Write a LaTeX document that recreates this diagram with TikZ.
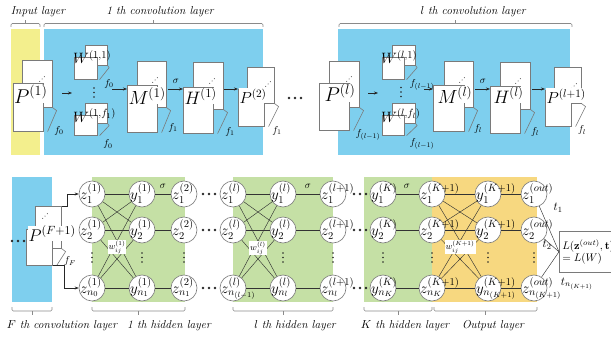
\RequirePackage{fix-cm}
\documentclass[tikz,border=0pt]{standalone}
\usepackage{amsmath}
\usetikzlibrary{calc,arrows.meta}
\definecolor{cblue}{HTML}{7ECFEE}
\definecolor{cyel}{HTML}{F3EF8D}
\definecolor{cgreen}{HTML}{C5E0A5}
\definecolor{corange}{HTML}{F7D880}
\definecolor{pgc}{HTML}{7A7A7A}
\definecolor{brc}{HTML}{8A8A8A}
\newcommand{\fs}[1]{\fontsize{#1}{#1}\selectfont}
\newcommand{\pg}[5]{\node[page,minimum width=#4,minimum height=#5] (#1) at (#2,#3) {};}
\newcommand{\bigbr}[2]{\draw[pbr] (#1.south east) -- ++(4,3) -- ($(#2.south east)+(4,0)$);}
\newcommand{\smbr}[2]{\draw[pbr] (#1.south east) -- ++(1.5,2) -- ($(#2.south east)+(2,0)$);}
\newcommand{\diagdots}[2]{\foreach \dx/\dy in {-2.3/2.3,0/0,2.3/-2.3} \fill[black!80] ($(#1,#2)+(\dx,\dy)$) circle (0.5);}
\newcommand{\vdotsat}[2]{\foreach \dy in {-4.5,0,4.5} \fill[black!85] ($(#1,#2)+(0,\dy)$) circle (0.8);}
\newcommand{\hdotsat}[2]{\foreach \dx in {-6,0,6} \fill[black!85] ($(#1,#2)+(\dx,0)$) circle (1.3);}
\newcommand{\tbrace}[2]{\draw[brace] (#1,27) -- (#1,23.5) -- (#2,23.5) -- (#2,27); \draw[brace] ({(#1+#2)/2},23.5) -- ++(0,-3);}
\newcommand{\bbrace}[2]{\draw[brace] (#1,307) -- (#1,311) -- (#2,311) -- (#2,307); \draw[brace] ({(#1+#2)/2},311) -- ++(0,3.5);}
\begin{document}
\begin{tikzpicture}[x=1pt,y=-1pt,
  page/.style={draw=pgc, fill=white, line width=0.6pt, inner sep=0pt, anchor=north west},
  plab/.style={inner sep=0.3pt, fill=white, anchor=base west},
  wl/.style={inner sep=0pt, anchor=base west, font=\fs{15}},
  flab/.style={inner sep=0pt, font=\fs{10}},
  pbr/.style={draw=pgc, line width=0.6pt},
  arr/.style={draw=black!85, line width=0.5pt, -{Stealth[length=4pt,width=3pt]}},
  neuron/.style={circle, draw=pgc, fill=white, line width=0.6pt, minimum size=26pt, inner sep=0pt},
  nlab/.style={inner sep=0pt, anchor=base west, font=\fs{15}},
  edge/.style={draw=black!80, line width=0.45pt},
  brace/.style={draw=brc, line width=0.6pt, rounded corners=1.2pt},
  laylab/.style={font=\fs{11.5}\itshape, inner sep=0pt},
  wlab/.style={fill=white, inner sep=1pt, font=\fs{9}},
  sig/.style={inner sep=0pt, font=\fs{10}},
  tlab/.style={inner sep=0pt, font=\fs{12}}]
\useasboundingbox (0,0) rectangle (611,337);
% backgrounds
\fill[cyel] (11,29) rectangle (40,155);
\fill[cblue] (44,29) rectangle (263,155);
\fill[cblue] (338,29) rectangle (570,155);
\fill[cblue] (12,177) rectangle (52,302);
\fill[cgreen] (92,177) rectangle (185,302);
\fill[cgreen] (233,177) rectangle (333,302);
\fill[cgreen] (364,177) rectangle (432,302);
\fill[corange] (432,177) rectangle (537,302);
% braces and layer labels
\tbrace{11}{40} \tbrace{44}{263} \tbrace{339}{572}
\node[laylab] (tl1) at (38,12) {Input layer};
\node[laylab] (tl2) at (160,12) {1 th convolution layer};
\node[laylab] (tl3) at (473,12) {$l$ th convolution layer};
\bbrace{12}{52} \bbrace{92}{185} \bbrace{233}{333} \bbrace{364}{432} \bbrace{434}{537}
\node[laylab] (bl1) at (62,326) {$F$ th convolution layer};
\node[laylab] (bl2) at (169,326) {1 th hidden layer};
\node[laylab] (bl3) at (295,326) {$l$ th hidden layer};
\node[laylab] (bl4) at (405,326) {$K$ th hidden layer};
\node[laylab] (bl5) at (493,326) {Output layer};
% ---------- top row pages ----------
\pg{p1b}{22}{60}{30}{47} \diagdots{42}{79} \pg{p1f}{13}{83}{30}{48}
\pg{w11b}{85}{45}{22}{20} \pg{w11f}{74}{57}{23}{22}
\pg{w1fb}{85}{103}{22}{20} \pg{w1ff}{74}{115}{23}{20}
\pg{m1b}{137}{61}{29}{46} \diagdots{155}{80} \pg{m1f}{127}{85}{30}{47}
\pg{h1b}{193}{62}{30}{47} \diagdots{212}{81} \pg{h1f}{183}{87}{30}{46}
\pg{p2b}{247}{67}{27}{36} \diagdots{268}{84} \pg{p2f}{238}{89}{26}{37}
\pg{plb}{329}{61}{30}{46} \diagdots{349}{79} \pg{plf}{319}{83}{30}{47}
\pg{wl1b}{392}{45}{23}{20} \pg{wl1f}{382}{57}{22}{22}
\pg{wlfb}{392}{103}{23}{20} \pg{wlff}{382}{115}{22}{20}
\pg{mlb}{444}{61}{29}{46} \diagdots{462}{80} \pg{mlf}{433}{85}{31}{46}
\pg{hlb}{500}{62}{30}{47} \diagdots{518}{81} \pg{hlf}{490}{86}{30}{47}
\pg{pl1b}{554}{67}{27}{36} \diagdots{574}{86} \pg{pl1f}{545}{90}{26}{36}
\pg{pFb}{35}{206}{26}{42} \diagdots{45}{216} \pg{pFf}{26}{229}{26}{36}
% depth brackets
\bigbr{p1b}{p1f} \bigbr{m1b}{m1f} \bigbr{h1b}{h1f} \bigbr{p2b}{p2f}
\bigbr{plb}{plf} \bigbr{mlb}{mlf} \bigbr{hlb}{hlf} \bigbr{pl1b}{pl1f} \bigbr{pFb}{pFf}
\smbr{w11b}{w11f} \smbr{w1fb}{w1ff} \smbr{wl1b}{wl1f} \smbr{wlfb}{wlff}
% page labels
\node[plab,font=\fs{20}] (p1t) at (13.5,103) {$P^{(1)}$};
\node[wl] (w11t) at (73,64) {$W^{(1,1)}$};
\node[wl] (w1ft) at (73,122) {$W^{(1,f_1)}$};
\node[plab,font=\fs{19}] (m1t) at (128,104) {$M^{(1)}$};
\node[plab,font=\fs{18}] (h1t) at (184,104) {$H^{(1)}$};
\node[plab,font=\fs{16}] (p2t) at (239,103) {$P^{(2)}$};
\node[plab,font=\fs{20}] (plt) at (324,102) {$P^{(l)}$};
\node[wl] (wl1t) at (381,64) {$W^{(l,1)}$};
\node[wl] (wlft) at (381,122) {$W^{(l,f_l)}$};
\node[plab,font=\fs{19}] (mlt) at (437,103) {$M^{(l)}$};
\node[plab,font=\fs{18}] (hlt) at (493,103) {$H^{(l)}$};
\node[plab,font=\fs{16}] (pl1t) at (546,103) {$P^{(l+1)}$};
\node[plab,font=\fs{17}] (pFt) at (28,241) {$P^{(F+1)}$};
% f labels
\node[flab] (f1) at (59,131) {$f_0$};
\node[flab] (f2) at (109,84) {$f_0$};
\node[flab] (f3) at (108,144) {$f_0$};
\node[flab] (f4) at (173,128) {$f_1$};
\node[flab] (f5) at (230,132) {$f_1$};
\node[flab] (f6) at (277,131) {$f_1$};
\node[flab] (f7) at (368,135) {$f_{(l-1)}$};
\node[flab] (f8) at (422,85) {$f_{(l-1)}$};
\node[flab] (f9) at (422,144) {$f_{(l-1)}$};
\node[flab] (f10) at (478,129) {$f_l$};
\node[flab] (f11) at (535,132) {$f_l$};
\node[flab] (f12) at (582,130) {$f_l$};
\node[flab] (f13) at (70,261) {$f_F$};
% top vertical dots and ellipsis
\vdotsat{94}{92.5} \vdotsat{401}{92}
\hdotsat{295}{98}
% top arrows
\coordinate (s1) at (62,93); \coordinate (e1) at (72,93);
\coordinate (s2) at (112,89); \coordinate (s3) at (168,89); \coordinate (s4) at (224,89);
\coordinate (s5) at (368,93); \coordinate (e5) at (378,93);
\coordinate (s6) at (424,89); \coordinate (s7) at (475,89); \coordinate (s8) at (532,89);
\draw[arr] (s1) -- (e1);
\draw[arr] (s2) -- ($(m1f.north west)+(0,4)$);
\draw[arr] (s3) -- ($(h1f.north west)+(0,2)$);
\draw[arr] (s4) -- (p2f.north west);
\draw[arr] (s5) -- (e5);
\draw[arr] (s6) -- ($(mlf.north west)+(0,4)$);
\draw[arr] (s7) -- ($(hlf.north west)+(0,3)$);
\draw[arr] (s8) -- ($(pl1f.north west)+(0,-1)$);
\node[sig] (sg1) at (176,81) {$\sigma$};
\node[sig] (sg2) at (483,81) {$\sigma$};
% ---------- bottom network ----------
\hdotsat{18}{241}
\foreach \c/\x in {a/92,b/142,c/184,d/233,e/283,f/333,g/383,h/432,i/488,j/534}{
  \node[neuron] (\c1) at (\x,194) {};
  \node[neuron] (\c2) at (\x,230) {};
  \node[neuron] (\c3) at (\x,288) {};
}
\foreach \x in {92,142,184,283,333,383,432,488,534} \vdotsat{\x}{257.5};
\foreach \y in {194,230,288} {\hdotsat{209}{\y} \hdotsat{360}{\y}}
% box
\node[draw=pgc, fill=white, line width=0.6pt, anchor=north west, minimum height=41, text width=58, inner xsep=3pt, align=left, font=\fs{11}] (L) at (559,231) {$L(\mathbf{z}^{(out)},\mathbf{t})$\\[1pt]$= L(W)$};
% edges
\foreach \p/\q in {a/b,d/e,h/i} \foreach \i in {1,2,3} \foreach \j in {1,2,3} \draw[edge] (\p\i) -- (\q\j);
\foreach \p/\q in {b/c,e/f,g/h,i/j} \foreach \i in {1,2,3} \draw[edge] (\p\i) -- (\q\i);
\foreach \i in {1,2,3} \draw[edge] (j\i) -- (L.west);
% input connectors
\draw[arr] (pFb.north east) -- ++(6,0) |- (a1);
\draw[arr] (pFf.south east) -- ++(12,0) |- (a3);
% neuron labels
\foreach \c/\la/\lb/\lc in {a/{z_1^{(1)}}/{z_2^{(1)}}/{z_{n_0}^{(1)}},
  b/{y_1^{(1)}}/{y_2^{(1)}}/{y_{n_1}^{(1)}},
  c/{z_1^{(2)}}/{z_2^{(2)}}/{z_{n_1}^{(2)}},
  d/{z_1^{(l)}}/{z_2^{(l)}}/{z_{n_{(l-1)}}^{(l)}},
  e/{y_1^{(l)}}/{y_2^{(l)}}/{y_{n_l}^{(l)}},
  f/{z_1^{(l+1)}}/{z_2^{(l+1)}}/{z_{n_l}^{(l+1)}},
  g/{y_1^{(K)}}/{y_2^{(K)}}/{y_{n_K}^{(K)}},
  h/{z_1^{(K+1)}}/{z_2^{(K+1)}}/{z_{n_K}^{(K+1)}},
  i/{y_1^{(K+1)}}/{y_2^{(K+1)}}/{y_{n_{(K+1)}}^{(K+1)}},
  j/{z_1^{(out)}}/{z_2^{(out)}}/{z_{n_{(K+1)}}^{(out)}}}{
  \node[nlab] (\c1t) at ($(\c1)+(-12,5.5)$) {$\la$};
  \node[nlab] (\c2t) at ($(\c2)+(-12,5.5)$) {$\lb$};
  \node[nlab] (\c3t) at ($(\c3)+(-12,5.5)$) {$\lc$};
}
% weight and sigma labels
\node[wlab] (wa) at (117,247) {$w_{ij}^{(1)}$};
\node[wlab] (wb) at (258,248) {$w_{ij}^{(l)}$};
\node[wlab] (wc) at (460,247) {$w_{ij}^{(K+1)}$};
\node[sig] (sg3) at (163,186) {$\sigma$};
\node[sig] (sg4) at (308,186) {$\sigma$};
\node[sig] (sg5) at (407,186) {$\sigma$};
% targets
\node[tlab] (t1) at (558,208) {$t_1$};
\node[tlab] (t2) at (547,245) {$t_2$};
\node[tlab] (t3) at (577,284) {$t_{n_{(K+1)}}$};
\end{tikzpicture}
\end{document}
